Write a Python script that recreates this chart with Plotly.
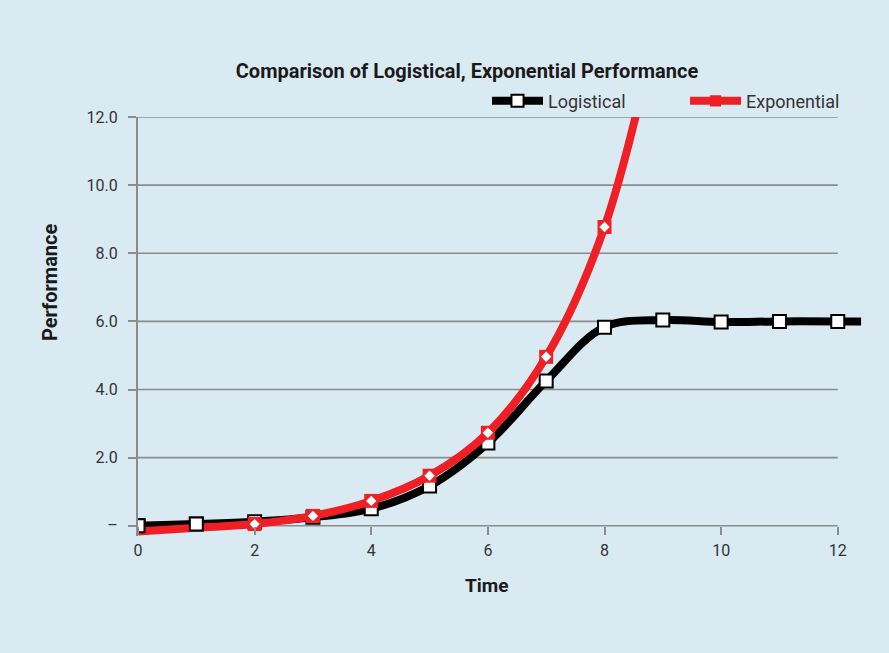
import plotly.graph_objects as go

time_log = [0, 1, 2, 3, 4, 5, 6, 7, 8, 9, 10, 11, 12, 12.4]
logistical = [0.0, 0.05, 0.12, 0.25, 0.5, 1.17, 2.43, 4.25, 5.83, 6.04, 5.98, 6.0, 6.0, 6.0]
log_marker_show = [1] * 13 + [0]

time_exp = [0, 1, 2, 3, 4, 5, 6, 7, 8, 9]
exponential = [-0.17, -0.06, 0.05, 0.29, 0.73, 1.47, 2.73, 4.96, 8.77, 15.5]
exp_marker_show = [0, 0, 1, 1, 1, 1, 1, 1, 1, 1]

y_ticks = [0, 2, 4, 6, 8, 10, 12]
y_ticktext = ["–", "2.0", "4.0", "6.0", "8.0", "10.0", "12.0"]
x_ticks = [0, 2, 4, 6, 8, 10, 12]

BG = "#DAEAF2"
RED = "#EE1F25"
GRID = "#8C8C8C"
TXT = "#333333"
DARK = "#1a1a1a"
FONT = "Roboto"

W, H = 889, 653
ML, MR, MT, MB = 138, 25, 117, 117
PW, PH = W - ML - MR, H - MT - MB


def px_x(px):
    return (px - ML) / PW


def px_y(py):
    return (H - MB - py) / PH


fig = go.Figure()

fig.add_trace(go.Scatter(
    x=time_log, y=logistical, name="Logistical", mode="lines+markers",
    line=dict(color="black", width=8, shape="spline"),
    marker=dict(symbol="square", size=[13 * s for s in log_marker_show], color="white",
                opacity=1, line=dict(color="black", width=2)),
))
fig.add_trace(go.Scatter(
    x=time_exp, y=exponential, name="Exponential", mode="lines+markers",
    line=dict(color=RED, width=8, shape="spline"),
    marker=dict(symbol="square", size=[14 * s for s in exp_marker_show], color=RED,
                opacity=1, line=dict(width=0)),
))
fig.add_trace(go.Scatter(
    x=time_exp, y=exponential, mode="markers", showlegend=False, hoverinfo="skip",
    marker=dict(symbol="diamond", size=[8 * s for s in exp_marker_show], color="white",
                opacity=1, line=dict(width=0)),
))
fig.add_trace(go.Scatter(
    x=time_log[:2], y=logistical[:2], mode="markers", showlegend=False, hoverinfo="skip",
    marker=dict(symbol="square", size=13, color="white", opacity=1,
                line=dict(color="black", width=2)),
))

# horizontal gridlines (also serving as the x axis line at 0), from the tick values
for yv in y_ticks:
    fig.add_shape(type="line", xref="x", yref="y", x0=x_ticks[0], x1=x_ticks[-1],
                  y0=yv, y1=yv, line=dict(color=GRID, width=1.6), layer="below")

y0 = -0.3
x_max = 12.45
fig.update_layout(
    width=W, height=H,
    paper_bgcolor=BG, plot_bgcolor=BG,
    margin=dict(l=ML, r=MR, t=MT, b=MB, autoexpand=False),
    font=dict(family=FONT, size=16, color=TXT),
    title=dict(text="<b>Comparison of Logistical, Exponential Performance</b>",
               x=467 / W, xanchor="center", y=1 - 71 / H, yanchor="middle",
               font=dict(family=FONT, size=20, color=DARK)),
    legend=dict(orientation="h", x=px_x(487), xanchor="left",
                y=1.038, yanchor="middle",
                bgcolor="rgba(0,0,0,0)", font=dict(size=18, color=TXT),
                itemwidth=51, entrywidth=132, entrywidthmode="pixels"),
    showlegend=True,
    annotations=[
        dict(text="<b>Time</b>", xref="paper", yref="paper", x=px_x(487), y=px_y(585),
             xanchor="center", yanchor="middle", showarrow=False,
             font=dict(family=FONT, size=19, color=DARK)),
        dict(text="<b>Performance</b>", xref="paper", yref="paper", x=px_x(50), y=px_y(283),
             xanchor="center", yanchor="middle", showarrow=False, textangle=-90,
             font=dict(family=FONT, size=20, color=DARK)),
    ],
)
fig.update_xaxes(
    range=[0, x_max], tickvals=x_ticks, showgrid=False, zeroline=False,
    anchor="free", position=(0 - y0) / (12 - y0),
    showline=False,
    ticks="outside", ticklen=8, tickwidth=2, tickcolor=GRID,
    tickfont=dict(size=16, color=TXT), ticklabelstandoff=2,
)
fig.update_yaxes(
    range=[y0, 12], tickvals=y_ticks, ticktext=y_ticktext,
    showgrid=False, zeroline=False,
    showline=True, linecolor=GRID, linewidth=2,
    ticks="outside", ticklen=8, tickwidth=2, tickcolor=GRID,
    tickfont=dict(size=16, color=TXT), ticklabelstandoff=7,
)

fig.write_html("out.html", config={"displayModeBar": False},
               post_script="document.body.style.margin='0px';")
